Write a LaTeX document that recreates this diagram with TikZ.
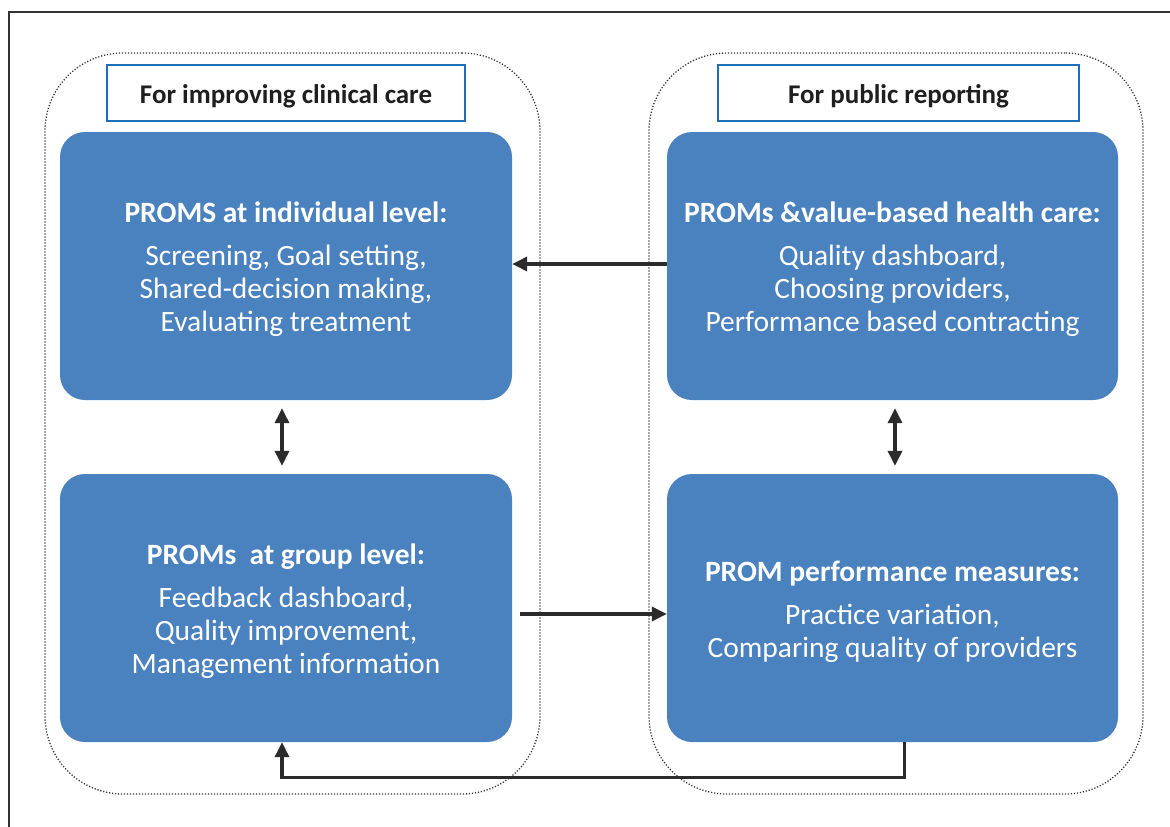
\documentclass[tikz,border=0pt]{standalone}
\usepackage{fontspec}
\setmainfont{Carlito}
\usetikzlibrary{arrows.meta}
\definecolor{boxblue}{HTML}{4A81BF}
\definecolor{titleblue}{HTML}{1F6EB9}
\definecolor{arrowgray}{HTML}{2B2B2B}
\definecolor{framegray}{HTML}{333333}
\tikzset{
  container/.style={draw=framegray, line width=1.3pt, dash pattern=on 1.2pt off 1.8pt, rounded corners=78pt, minimum width=#1, minimum height=741pt, inner sep=0pt},
  titlebox/.style={draw=titleblue, line width=2.6pt, fill=white, minimum width=#1, minimum height=56pt, inner sep=0pt, text=black!88, font=\bfseries\fontsize{27}{30}\selectfont},
  bluebox/.style={fill=boxblue, rounded corners=25pt, minimum width=#1, minimum height=268pt, inner sep=0pt, text=white, align=center, font=\fontsize{29.5}{33}\selectfont},
  arr/.style={draw=arrowgray, line width=3.4pt, -{Triangle[length=15pt,width=14pt]}},
  darr/.style={draw=arrowgray, line width=3.4pt, {Triangle[length=15pt,width=14pt]}-{Triangle[length=15pt,width=14pt]}}
}
\newcommand{\hdtext}[1]{{\bfseries\fontsize{29.5}{33}\selectfont\rule{0pt}{28pt}#1}}
\newcommand{\tttext}[1]{\rule{0pt}{25pt}#1}
\begin{document}
\begin{tikzpicture}[x=1pt,y=-1pt]
\useasboundingbox (0,0) rectangle (1170,827);
% frame
\draw[framegray, line width=1.3pt] (1170,12) -- (9,12) -- (9,827);
% containers
\node[container=495pt] (lc) at (292.5,423.5) {};
\node[container=494pt] (rc) at (896,423.5) {};
% titles
\node[titlebox=358pt] (lt) at (286,93) {\tttext{For improving clinical care}};
\node[titlebox=361pt] (rt) at (898.5,93) {\tttext{For public reporting}};
% blue boxes
\node[bluebox=452pt] (a) at (286,266) {\hdtext{PROMS at individual level:}\\[10pt]Screening, Goal setting,\\Shared-decision making,\\Evaluating treatment};
\node[bluebox=451pt] (b) at (892.5,266) {\hdtext{PROMs \&value-based health care:}\\[10pt]Quality dashboard,\\Choosing providers,\\Performance based contracting};
\node[bluebox=452pt] (c) at (286,608) {\hdtext{PROMs~ at group level:}\\[10pt]Feedback dashboard,\\Quality improvement,\\Management information};
\node[bluebox=451pt] (d) at (892.5,608) {\hdtext{PROM performance measures:}\\[10pt]Practice variation,\\Comparing quality of providers};
% arrows
\draw[arr] ([yshift=2pt]b.west) -- ([yshift=2pt]a.east);
\draw[arr] ([xshift=8pt,yshift=-6pt]c.east) -- ([yshift=-6pt]d.west);
\draw[darr] ([xshift=-4pt,yshift=-8pt]a.south) -- ([xshift=-4pt,yshift=8pt]c.north);
\draw[darr] ([xshift=2.5pt,yshift=-8pt]b.south) -- ([xshift=2.5pt,yshift=8pt]d.north);
\coordinate (p0) at ([xshift=12pt]d.south);
\coordinate (p1) at ([xshift=12pt,yshift=-35pt]d.south);
\coordinate (p3) at ([xshift=-4pt]c.south);
\draw[arr, line join=miter] (p0) -- (p1) -- (p1 -| p3) -- (p3);
\end{tikzpicture}
\end{document}
